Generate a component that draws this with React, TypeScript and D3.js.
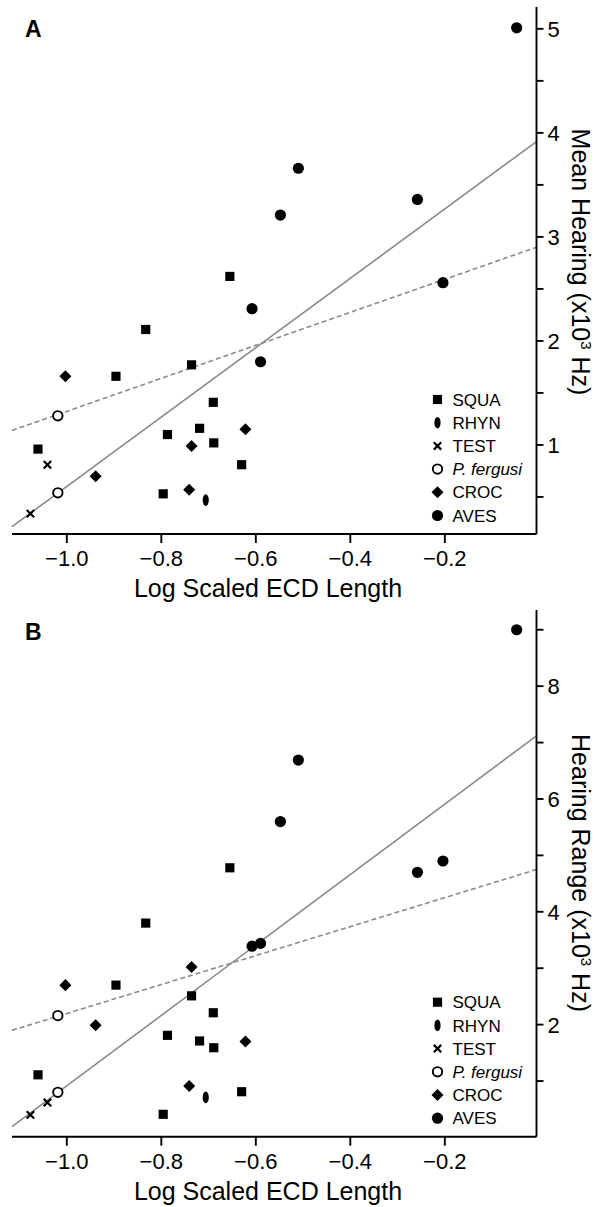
import React from "react";
import * as d3 from "d3";

// ---- data (x = log scaled ECD length, y = x10^3 Hz) ----
const squaX = [-1.061, -0.896, -0.833, -0.796, -0.787, -0.736, -0.719, -0.690, -0.689, -0.655, -0.630];
const squaA = [0.96, 1.66, 2.11, 0.53, 1.10, 1.77, 1.16, 1.41, 1.02, 2.62, 0.81];
const squaB = [1.11, 2.70, 3.80, 0.41, 1.81, 2.51, 1.71, 2.21, 1.59, 4.78, 0.81];

const rhynX = [-0.706];
const rhynA = [0.47];
const rhynB = [0.71];

const testX = [-1.077, -1.041];
const testA = [0.34, 0.81];
const testB = [0.40, 0.62];

const fergX = [-1.019, -1.019];
const fergA = [0.54, 1.28];
const fergB = [0.80, 2.16];

const crocX = [-1.003, -0.939, -0.741, -0.736, -0.622];
const crocA = [1.66, 0.70, 0.57, 0.99, 1.15];
const crocB = [2.70, 1.99, 0.91, 3.02, 1.70];

const avesX = [-0.608, -0.590, -0.548, -0.510, -0.258, -0.204, -0.048];
const avesA = [2.31, 1.80, 3.21, 3.66, 3.36, 2.56, 5.01];
const avesB = [3.39, 3.44, 5.60, 6.69, 4.70, 4.90, 9.00];

// regression lines: [intercept, slope]
const solidFitA = [3.936, 3.335];
const dashedFitA = [2.91, 1.587];
const solidFitB = [7.157, 6.243];
const dashedFitB = [4.765, 2.568];

const xTicks = [-1.0, -0.8, -0.6, -0.4, -0.2];
const yMajorA = [1, 2, 3, 4, 5];
const yMinorA = [0.5, 1.5, 2.5, 3.5, 4.5];
const yMajorB = [2, 4, 6, 8];
const yMinorB = [1, 3, 5, 7, 9];

const legendLabels = ["SQUA", "RHYN", "TEST", "P. fergusi", "CROC", "AVES"];

const FONT = "'Liberation Sans', Arial, Helvetica, sans-serif";
const X_DOMAIN = [-1.116, -0.006];
const X_RANGE = [12, 536.5];

type Shape = "square" | "ellipse" | "x" | "open" | "diamond" | "circle";

function Marker({ shape, cx, cy }: { shape: Shape; cx: number; cy: number }) {
  const t = `translate(${cx},${cy})`;
  if (shape === "square") {
    return <path transform={t} d={d3.symbol(d3.symbolSquare, 84)()!} fill="#000" />;
  }
  if (shape === "diamond") {
    return <path transform={t} d={d3.symbol(d3.symbolDiamond2, 92)()!} fill="#000" />;
  }
  if (shape === "circle") {
    return <circle cx={cx} cy={cy} r={5.6} fill="#000" />;
  }
  if (shape === "open") {
    return <circle cx={cx} cy={cy} r={4.7} fill="#fff" stroke="#000" strokeWidth={1.9} />;
  }
  if (shape === "ellipse") {
    return <ellipse cx={cx} cy={cy} rx={3.1} ry={5.8} fill="#000" />;
  }
  const s = 3.7;
  return (
    <path
      transform={t}
      d={`M${-s},${-s}L${s},${s}M${-s},${s}L${s},${-s}`}
      stroke="#000"
      strokeWidth={2.2}
      fill="none"
    />
  );
}

type PanelProps = {
  letter: string;
  top: number;
  bottom: number;
  yDomain: [number, number];
  majors: number[];
  minors: number[];
  ys: { squa: number[]; rhyn: number[]; test: number[]; ferg: number[]; croc: number[]; aves: number[] };
  solid: number[];
  dashed: number[];
  title: string;
  titleY: number;
};

function Panel(p: PanelProps) {
  const x = d3.scaleLinear().domain(X_DOMAIN).range(X_RANGE);
  const y = d3.scaleLinear().domain(p.yDomain).range([p.bottom, p.top]);
  const fmt = d3.format(".1f");
  const right = X_RANGE[1];
  const fitPath = (fit: number[]) =>
    d3
      .line<number>()
      .x((v) => x(v))
      .y((v) => y(fit[0] + fit[1] * v))(X_DOMAIN as number[])!;

  const groups: { shape: Shape; xs: number[]; vs: number[] }[] = [
    { shape: "square", xs: squaX, vs: p.ys.squa },
    { shape: "ellipse", xs: rhynX, vs: p.ys.rhyn },
    { shape: "x", xs: testX, vs: p.ys.test },
    { shape: "open", xs: fergX, vs: p.ys.ferg },
    { shape: "diamond", xs: crocX, vs: p.ys.croc },
    { shape: "circle", xs: avesX, vs: p.ys.aves },
  ];
  const legendShapes: Shape[] = ["square", "ellipse", "x", "open", "diamond", "circle"];
  const legTop = p.bottom - 134.5;
  const legStep = 23.2;

  return (
    <g>
      <text x={25} y={p.top + 30} fontFamily={FONT} fontWeight="bold" fontSize={23}>
        {p.letter}
      </text>
      {/* regression lines */}
      <path d={fitPath(p.solid)} stroke="#8a8a8a" strokeWidth={1.6} fill="none" />
      <path d={fitPath(p.dashed)} stroke="#8a8a8a" strokeWidth={1.6} fill="none" strokeDasharray="5,3" />
      {/* points */}
      {groups.map((g, gi) =>
        g.xs.map((xv, i) => <Marker key={`${gi}-${i}`} shape={g.shape} cx={x(xv)} cy={y(g.vs[i])} />)
      )}
      {/* x axis */}
      <line x1={X_RANGE[0]} x2={right} y1={p.bottom} y2={p.bottom} stroke="#000" strokeWidth={1.9} />
      {xTicks.map((t) => (
        <g key={t}>
          <line x1={x(t)} x2={x(t)} y1={p.bottom} y2={p.bottom + 9} stroke="#000" strokeWidth={1.9} />
          <text x={x(t)} y={p.bottom + 32} textAnchor="middle" fontFamily={FONT} fontSize={22}>
            {fmt(t)}
          </text>
        </g>
      ))}
      <text x={268} y={p.bottom + 63} textAnchor="middle" fontFamily={FONT} fontSize={25}>
        Log Scaled ECD Length
      </text>
      {/* y axis (right) */}
      <line x1={right} x2={right} y1={p.top} y2={p.bottom} stroke="#000" strokeWidth={1.9} />
      {p.minors.map((t) => (
        <line key={"m" + t} x1={right} x2={right + 7} y1={y(t)} y2={y(t)} stroke="#000" strokeWidth={1.9} />
      ))}
      {p.majors.map((t) => (
        <g key={"M" + t}>
          <line x1={right} x2={right + 7} y1={y(t)} y2={y(t)} stroke="#000" strokeWidth={1.9} />
          <text x={right + 11} y={y(t)} dy="0.36em" fontFamily={FONT} fontSize={22}>
            {t}
          </text>
        </g>
      ))}
      <text
        transform={`translate(572,${p.titleY}) rotate(90)`}
        textAnchor="middle"
        fontFamily={FONT}
        fontSize={25}
      >
        {p.title} (x10
        <tspan fontSize={15} dy={-9}>
          3
        </tspan>
        <tspan dy={9}> Hz)</tspan>
      </text>
      {/* legend */}
      {legendLabels.map((lab, i) => {
        const ly = legTop + i * legStep;
        return (
          <g key={lab}>
            <Marker shape={legendShapes[i]} cx={437.5} cy={ly} />
            <text
              x={452.5}
              y={ly}
              dy="0.36em"
              fontFamily={FONT}
              fontSize={17}
              fontStyle={lab.startsWith("P.") ? "italic" : "normal"}
            >
              {lab}
            </text>
          </g>
        );
      })}
    </g>
  );
}

export default function App() {
  return (
    <svg width={597} height={1207} style={{ position: "absolute", left: 0, top: 0, background: "#fff" }}>
      <rect width={597} height={1207} fill="#fff" />
      <Panel
        letter="A"
        top={7}
        bottom={534}
        yDomain={[0.144, 5.21]}
        majors={yMajorA}
        minors={yMinorA}
        ys={{ squa: squaA, rhyn: rhynA, test: testA, ferg: fergA, croc: crocA, aves: avesA }}
        solid={solidFitA}
        dashed={dashedFitA}
        title="Mean Hearing"
        titleY={262}
      />
      <Panel
        letter="B"
        top={610}
        bottom={1136.7}
        yDomain={[0.013, 9.35]}
        majors={yMajorB}
        minors={yMinorB}
        ys={{ squa: squaB, rhyn: rhynB, test: testB, ferg: fergB, croc: crocB, aves: avesB }}
        solid={solidFitB}
        dashed={dashedFitB}
        title="Hearing Range"
        titleY={873}
      />
    </svg>
  );
}
